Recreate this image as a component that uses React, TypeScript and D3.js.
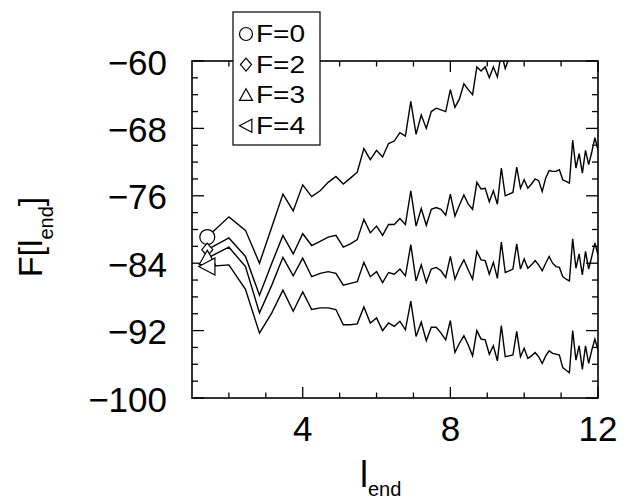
import React from 'react';
import * as d3 from 'd3';

const lEnd = [
  1.414, 2.0, 2.449, 2.828, 3.162, 3.464, 3.742, 4.0, 4.243, 4.472,
  4.69, 4.899, 5.099, 5.292, 5.477, 5.657, 5.831, 6.0, 6.164, 6.325,
  6.481, 6.633, 6.782, 6.928, 7.071, 7.211, 7.348, 7.483, 7.616, 7.746,
  7.874, 8.0, 8.124, 8.246, 8.367, 8.485, 8.602, 8.718, 8.832, 8.944,
  9.055, 9.165, 9.274, 9.381, 9.487, 9.592, 9.695, 9.798, 9.899, 10.0,
  10.1, 10.198, 10.296, 10.392, 10.488, 10.583, 10.677, 10.77, 10.863, 10.954,
  11.045, 11.136, 11.225, 11.314, 11.402, 11.489, 11.576, 11.662, 11.747, 11.832,
  11.916, 12.0,
];

const seriesF0 = [
  -80.9, -78.5, -80.1, -84.0, -79.7, -75.8, -77.8, -74.7, -76.1, -75.4,
  -74.4, -73.7, -74.6, -73.9, -73.2, -70.4, -71.7, -70.6, -71.4, -69.8,
  -69.5, -68.5, -68.9, -64.8, -68.7, -66.4, -68.0, -66.0, -65.6, -65.8,
  -66.0, -63.4, -65.5, -64.5, -62.7, -63.4, -64.0, -60.7, -61.2, -60.7,
  -62.0, -60.7, -61.9, -59.0, -60.9, -59.6, -59.6, -56.4, -58.7, -57.5,
  -58.3, -57.6, -56.8, -56.8, -57.9, -56.1, -55.0, -54.9, -54.7, -54.3,
  -55.3, -55.3, -55.3, -50.0, -53.1, -51.2, -53.3, -50.4, -51.9, -50.2,
  -48.3, -49.6,
];

const seriesF2 = [
  -82.4, -81.0, -83.2, -87.8, -84.0, -80.7, -82.9, -80.5, -81.9, -81.4,
  -80.9, -80.7, -82.1, -81.7, -81.2, -78.8, -80.4, -79.6, -80.7, -79.4,
  -79.4, -78.7, -79.4, -75.4, -79.6, -77.5, -79.5, -77.6, -77.4, -77.6,
  -78.3, -75.8, -78.4, -77.1, -75.9, -77.0, -77.6, -74.4, -75.2, -75.1,
  -76.7, -75.4, -77.0, -72.7, -76.0, -75.8, -75.6, -72.6, -75.1, -74.1,
  -75.1, -74.6, -74.0, -74.2, -75.5, -73.9, -73.0, -73.1, -73.1, -72.9,
  -74.1, -74.3, -74.5, -69.4, -72.7, -71.0, -73.3, -70.6, -72.3, -70.8,
  -69.1, -70.6,
];

const seriesF3 = [
  -83.4, -82.1, -84.4, -89.9, -86.6, -83.3, -85.5, -83.4, -85.6, -85.2,
  -85.0, -85.2, -86.6, -86.4, -86.2, -83.9, -85.6, -85.0, -86.3, -85.1,
  -85.3, -84.7, -85.5, -81.8, -86.1, -84.2, -86.3, -84.7, -84.5, -84.9,
  -85.7, -83.2, -85.9, -84.6, -83.6, -84.8, -85.9, -82.6, -83.6, -83.7,
  -85.3, -83.9, -85.8, -81.5, -85.1, -84.9, -84.7, -81.7, -84.7, -83.5,
  -84.6, -84.2, -83.7, -84.2, -84.9, -84.0, -83.2, -84.0, -84.4, -84.5,
  -85.6, -85.9, -86.1, -81.1, -84.6, -82.9, -85.4, -82.6, -84.7, -83.2,
  -81.6, -83.0,
];

const seriesF4 = [
  -84.4, -84.2, -87.1, -92.3, -89.9, -87.2, -89.7, -87.4, -89.5, -89.3,
  -89.3, -89.5, -91.3, -91.3, -91.2, -89.2, -91.1, -90.5, -92.0, -91.1,
  -91.5, -90.9, -91.9, -88.5, -92.7, -91.0, -93.2, -91.6, -91.6, -92.3,
  -93.1, -90.8, -94.6, -93.5, -92.6, -93.7, -95.0, -92.0, -93.0, -93.1,
  -94.8, -93.8, -95.6, -91.4, -95.1, -95.0, -94.9, -92.1, -95.1, -94.1,
  -95.3, -95.0, -94.6, -95.1, -95.9, -95.0, -94.4, -94.7, -94.8, -94.9,
  -96.4, -96.7, -97.0, -92.0, -95.5, -93.8, -96.6, -93.8, -95.9, -94.3,
  -93.0, -94.3,
];

const seriesNames = ['F=0', 'F=2', 'F=3', 'F=4'];
const seriesShapes = ['circle', 'diamond', 'triangleUp', 'triangleLeft'];
const xMajorTicks = [4, 8, 12];
const xMinorTicks = [2, 3, 5, 6, 7, 9, 10, 11];
const yMajorTicks = [-100, -92, -84, -76, -68, -60];
const yMinorTicks = [-98, -96, -94, -90, -88, -86, -82, -80, -78, -74, -72, -70, -66, -64, -62];

const FONT = '"Liberation Sans", Arial, Helvetica, sans-serif';

function markerPath(shape: string, cx: number, cy: number, s: number): string {
  const p = d3.path();
  if (shape === 'circle') {
    p.moveTo(cx + s, cy);
    p.arc(cx, cy, s, 0, Math.PI * 2);
  } else if (shape === 'diamond') {
    p.moveTo(cx, cy - s);
    p.lineTo(cx + s * 0.85, cy);
    p.lineTo(cx, cy + s);
    p.lineTo(cx - s * 0.85, cy);
    p.closePath();
  } else if (shape === 'triangleUp') {
    p.moveTo(cx, cy - s);
    p.lineTo(cx + s, cy + s * 0.8);
    p.lineTo(cx - s, cy + s * 0.8);
    p.closePath();
  } else {
    p.moveTo(cx - s, cy);
    p.lineTo(cx + s * 0.9, cy - s);
    p.lineTo(cx + s * 0.9, cy + s);
    p.closePath();
  }
  return p.toString();
}

const fmt = (v: number) => String(v).replace('-', '\u2212');

export default function App() {
  const L = 192, R = 598, T = 61, B = 398;
  const x = d3.scaleLinear().domain([1, 12]).range([L, R]);
  const y = d3.scaleLinear().domain([-100, -60]).range([B, T]);
  const allSeries = [seriesF0, seriesF2, seriesF3, seriesF4];
  const line = d3
    .line<number>()
    .x((_, i) => x(lEnd[i]))
    .y((d) => y(d));

  const markerSizes = [7.5, 6.5, 8, 8.5];

  return (
    <svg
      width={633}
      height={501}
      style={{ position: 'absolute', left: 0, top: 0, background: '#fff' }}
      fontFamily={FONT}
    >
      <defs>
        <clipPath id="plotClip">
          <rect x={L} y={T} width={R - L} height={B - T} />
        </clipPath>
      </defs>
      <rect x={0} y={0} width={633} height={501} fill="#fff" />

      {/* ticks */}
      <g stroke="#000" strokeWidth={1.3}>
        {xMajorTicks.map((t) => (
          <g key={'xM' + t}>
            <line x1={x(t)} x2={x(t)} y1={B} y2={B - 11} />
            <line x1={x(t)} x2={x(t)} y1={T} y2={T + 11} />
          </g>
        ))}
        {xMinorTicks.map((t) => (
          <g key={'xm' + t}>
            <line x1={x(t)} x2={x(t)} y1={B} y2={B - 5.5} />
            <line x1={x(t)} x2={x(t)} y1={T} y2={T + 5.5} />
          </g>
        ))}
        {yMajorTicks.map((t) => (
          <g key={'yM' + t}>
            <line x1={L} x2={L + 12} y1={y(t)} y2={y(t)} />
            <line x1={R} x2={R - 12} y1={y(t)} y2={y(t)} />
          </g>
        ))}
        {yMinorTicks.map((t) => (
          <g key={'ym' + t}>
            <line x1={L} x2={L + 6} y1={y(t)} y2={y(t)} />
            <line x1={R} x2={R - 6} y1={y(t)} y2={y(t)} />
          </g>
        ))}
      </g>

      {/* series lines */}
      <g clipPath="url(#plotClip)">
        {allSeries.map((s, i) => (
          <path key={'l' + i} d={line(s) || ''} fill="none" stroke="#000" strokeWidth={1.4} strokeLinejoin="miter" />
        ))}
      </g>
      {/* markers at first point */}
      {allSeries.map((s, i) => (
        <path
          key={'m' + i}
          d={markerPath(seriesShapes[i], x(lEnd[0]), y(s[0]), markerSizes[i])}
          fill="#fff"
          stroke="#000"
          strokeWidth={1.2}
        />
      ))}

      {/* frame */}
      <rect x={L} y={T} width={R - L} height={B - T} fill="none" stroke="#000" strokeWidth={1.6} />

      {/* tick labels */}
      {yMajorTicks.map((t) => (
        <text key={'yl' + t} x={167} y={y(t) + 13.5} textAnchor="end" fontSize={35} fill="#000">
          {fmt(t)}
        </text>
      ))}
      {xMajorTicks.map((t) => (
        <text key={'xl' + t} x={x(t)} y={441} textAnchor="middle" fontSize={35} fill="#000">
          {fmt(t)}
        </text>
      ))}

      {/* axis labels */}
      <text x={360} y={487} fontSize={36} fill="#000">
        l<tspan fontSize={20} dy={9}>end</tspan>
      </text>
      <text transform="translate(42,237) rotate(-90)" textAnchor="middle" fontSize={34} fill="#000">
        F[l<tspan fontSize={20} dy={11}>end</tspan>
        <tspan dy={-11}>]</tspan>
      </text>

      {/* legend */}
      <rect x={233} y={12} width={87} height={133} fill="#fff" stroke="#000" strokeWidth={1.2} />
      {seriesNames.map((n, i) => {
        const cy = 34 + i * 30.6;
        return (
          <g key={'lg' + i}>
            <path d={markerPath(seriesShapes[i], 246, cy, 6.5)} fill="#fff" stroke="#000" strokeWidth={1.2} />
            <text x={256} y={cy + 8} fontSize={23} fill="#000" textLength={49} lengthAdjust="spacingAndGlyphs">
              {n}
            </text>
          </g>
        );
      })}
    </svg>
  );
}
